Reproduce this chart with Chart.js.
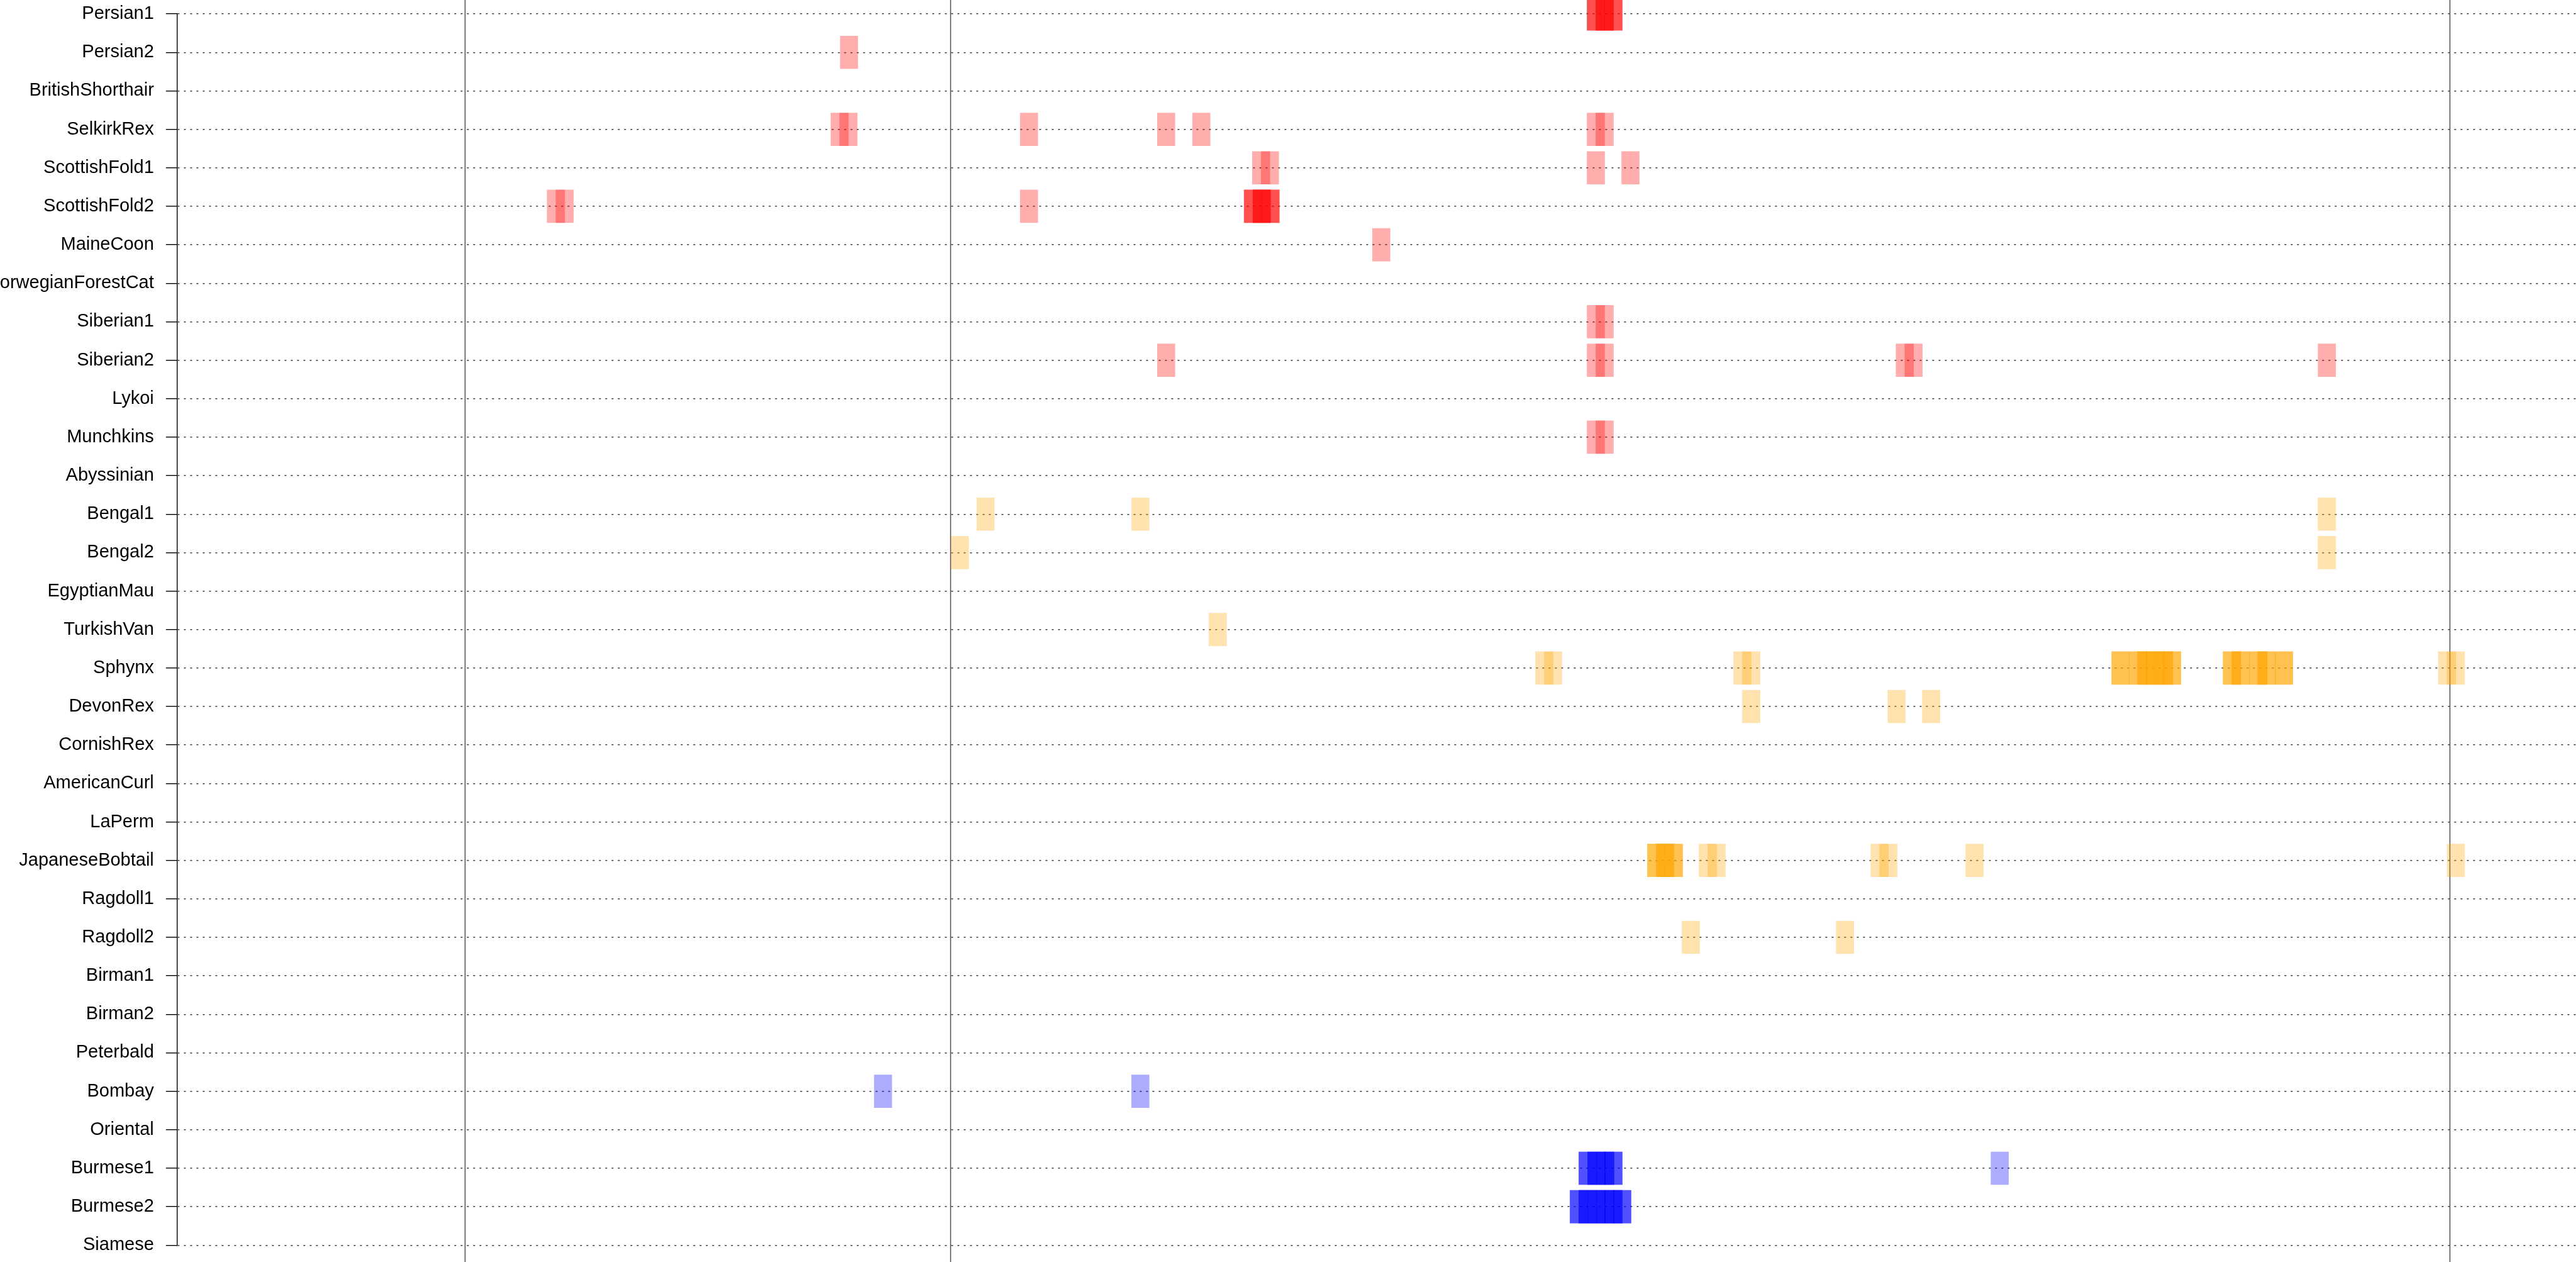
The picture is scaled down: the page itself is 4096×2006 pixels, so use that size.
<!DOCTYPE html>
<html>
<head>
<meta charset="utf-8">
<title>Breed windows</title>
<script src="https://cdn.jsdelivr.net/npm/chart.js@4"></script>
<style>
  html, body { margin: 0; padding: 0; background: #fff; }
  #wrap { width: 4096px; height: 2006px; }
</style>
</head>
<body>
<div id="wrap"><canvas id="breedChart"></canvas></div>
<script>
// row labels, top to bottom
const breeds = ['Persian1', 'Persian2', 'BritishShorthair', 'SelkirkRex', 'ScottishFold1', 'ScottishFold2',
    'MaineCoon', 'NorwegianForestCat', 'Siberian1', 'Siberian2', 'Lykoi', 'Munchkins', 'Abyssinian',
    'Bengal1', 'Bengal2', 'EgyptianMau', 'TurkishVan', 'Sphynx', 'DevonRex', 'CornishRex', 'AmericanCurl',
    'LaPerm', 'JapaneseBobtail', 'Ragdoll1', 'Ragdoll2', 'Birman1', 'Birman2', 'Peterbald', 'Bombay',
    'Oriental', 'Burmese1', 'Burmese2', 'Siamese'];

// x range and the segment boundaries (vertical lines)
const xMax = 409.2;
const boundaries = [49.1, 131.9, 387.6];
const windowWidth = 3.0;

// [breed, window start, number of overlapping hits]
const redWindows = [
    ['Persian1', 240.5, 3], ['Persian1', 242.0, 3], ['Persian1', 243.5, 3],
    ['Persian2', 113.1, 1],
    ['SelkirkRex', 111.5, 1], ['SelkirkRex', 113.0, 1], ['SelkirkRex', 143.8, 1], ['SelkirkRex', 167.2, 1],
    ['SelkirkRex', 173.2, 1], ['SelkirkRex', 240.5, 1], ['SelkirkRex', 242.0, 1],
    ['ScottishFold1', 183.4, 1], ['ScottishFold1', 184.9, 1], ['ScottishFold1', 240.5, 1], ['ScottishFold1', 246.4, 1],
    ['ScottishFold2', 63.1, 1], ['ScottishFold2', 64.6, 1], ['ScottishFold2', 143.8, 1],
    ['ScottishFold2', 182.0, 3], ['ScottishFold2', 183.5, 3], ['ScottishFold2', 185.0, 3],
    ['MaineCoon', 203.9, 1],
    ['Siberian1', 240.5, 1], ['Siberian1', 242.0, 1],
    ['Siberian2', 167.2, 1], ['Siberian2', 240.5, 1], ['Siberian2', 242.0, 1], ['Siberian2', 293.2, 1],
    ['Siberian2', 294.7, 1], ['Siberian2', 365.2, 1],
    ['Munchkins', 240.5, 1], ['Munchkins', 242.0, 1]
];

const orangeWindows = [
    ['Bengal1', 136.4, 1], ['Bengal1', 162.8, 1], ['Bengal1', 365.2, 1],
    ['Bengal2', 132.0, 1], ['Bengal2', 365.2, 1],
    ['TurkishVan', 176.0, 1],
    ['Sphynx', 231.7, 1], ['Sphynx', 233.2, 1], ['Sphynx', 265.5, 1], ['Sphynx', 267.0, 1],
    ['Sphynx', 330.0, 3], ['Sphynx', 333.0, 3], ['Sphynx', 334.4, 3], ['Sphynx', 335.9, 3],
    ['Sphynx', 337.4, 3], ['Sphynx', 338.8, 3],
    ['Sphynx', 349.0, 3], ['Sphynx', 350.5, 3], ['Sphynx', 353.5, 3], ['Sphynx', 354.9, 3], ['Sphynx', 357.9, 3],
    ['Sphynx', 385.7, 1], ['Sphynx', 387.2, 1],
    ['DevonRex', 267.0, 1], ['DevonRex', 291.8, 1], ['DevonRex', 297.7, 1],
    ['JapaneseBobtail', 250.8, 3], ['JapaneseBobtail', 252.3, 3], ['JapaneseBobtail', 253.8, 3],
    ['JapaneseBobtail', 259.6, 1], ['JapaneseBobtail', 261.1, 1], ['JapaneseBobtail', 288.9, 1],
    ['JapaneseBobtail', 290.4, 1], ['JapaneseBobtail', 305.1, 1], ['JapaneseBobtail', 387.2, 1],
    ['Ragdoll2', 256.7, 1], ['Ragdoll2', 283.0, 1]
];

const blueWindows = [
    ['Bombay', 118.9, 1], ['Bombay', 162.8, 1],
    ['Burmese1', 239.1, 3], ['Burmese1', 240.6, 3], ['Burmese1', 242.1, 3], ['Burmese1', 243.5, 3],
    ['Burmese1', 309.4, 1],
    ['Burmese2', 237.6, 3], ['Burmese2', 239.1, 3], ['Burmese2', 240.6, 3], ['Burmese2', 242.1, 3],
    ['Burmese2', 243.5, 3], ['Burmese2', 245.0, 3]
];

// one rect per hit, so overlaps darken
function toBars(list) {
    const out = [];
    list.forEach(([breed, start, n]) => {
        for (let i = 0; i < n; i++) {
            out.push({ y: breed, x: [start, start + windowWidth] });
        }
    });
    return out;
}

function windowSet(label, list, color) {
    return {
        label: label,
        data: toBars(list),
        backgroundColor: color,
        borderWidth: 0,
        grouped: false,
        barThickness: 52,
        clip: false
    };
}

const boundaryLines = {
    id: 'boundaryLines',
    beforeDatasetsDraw(chart) {
        const ctx = chart.ctx;
        const xs = chart.scales.x;
        ctx.save();
        ctx.strokeStyle = '#4d4d4d';
        ctx.lineWidth = 1.5;
        boundaries.forEach(b => {
            const px = Math.round(xs.getPixelForValue(b)) + 0.5;
            ctx.beginPath();
            ctx.moveTo(px, 0);
            ctx.lineTo(px, chart.height);
            ctx.stroke();
        });
        ctx.restore();
    }
};

window.onload = () => {
    Chart.defaults.font.family = "'Liberation Sans', Arial, sans-serif";
    Chart.defaults.color = '#000';

    new Chart(document.getElementById('breedChart'), {
        type: 'bar',
        data: {
            labels: breeds,
            datasets: [
                windowSet('red', redWindows, 'rgba(255, 0, 0, 0.32)'),
                windowSet('orange', orangeWindows, 'rgba(255, 165, 0, 0.32)'),
                windowSet('blue', blueWindows, 'rgba(0, 0, 255, 0.32)')
            ]
        },
        options: {
            indexAxis: 'y',
            responsive: true,
            maintainAspectRatio: false,
            animation: false,
            devicePixelRatio: 1,
            layout: { padding: { top: 22.1, bottom: 26.7, left: 0, right: 0 } },
            plugins: {
                legend: { display: false },
                tooltip: { enabled: false }
            },
            scales: {
                x: {
                    type: 'linear',
                    min: 0,
                    max: xMax,
                    display: false
                },
                y: {
                    type: 'category',
                    offset: false,
                    afterFit: (scale) => {
                        scale.width = 281.8;
                        scale.paddingTop = 0;
                        scale.paddingBottom = 0;
                    },
                    ticks: {
                        autoSkip: false,
                        padding: 19,
                        font: { size: 29 },
                        color: '#000'
                    },
                    grid: {
                        offset: false,
                        color: '#3a3a3a',
                        lineWidth: 1.4,
                        tickLength: 18,
                        tickColor: '#000',
                        tickWidth: 1.4
                    },
                    border: {
                        display: true,
                        color: '#000',
                        width: 1.4,
                        dash: [3, 7]
                    }
                }
            }
        },
        plugins: [boundaryLines]
    });
};
</script>
</body>
</html>
